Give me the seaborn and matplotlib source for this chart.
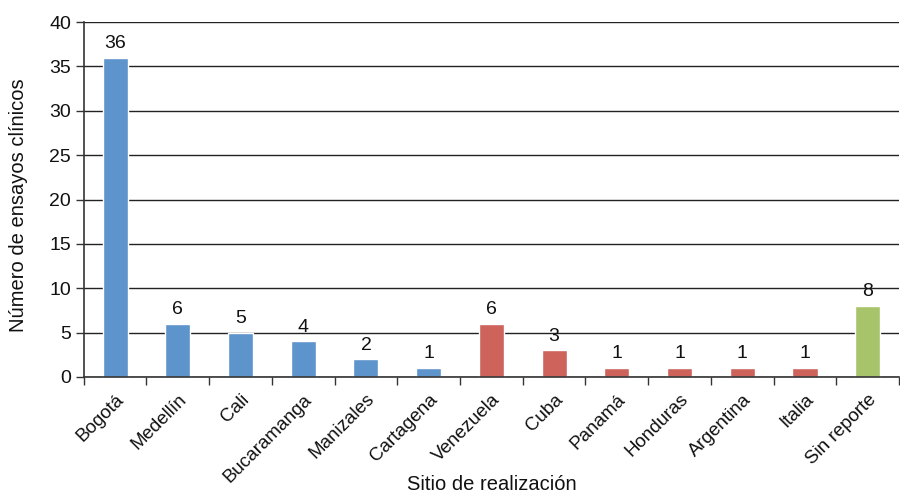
import matplotlib
matplotlib.use("Agg")
import matplotlib.pyplot as plt
import seaborn as sns
import numpy as np

categories = ["Bogotá", "Medellín", "Cali", "Bucaramanga", "Manizales", "Cartagena",
              "Venezuela", "Cuba", "Panamá", "Honduras", "Argentina", "Italia", "Sin reporte"]
values = [36, 6, 5, 4, 2, 1, 6, 3, 1, 1, 1, 1, 8]
groups = ["Colombia"] * 6 + ["Exterior"] * 6 + ["Sin reporte"]
group_colors = {"Colombia": "#5E94CC", "Exterior": "#CD635B", "Sin reporte": "#A8C46A"}
yticks = [0, 5, 10, 15, 20, 25, 30, 35, 40]

sns.set_theme(style="white")
plt.rcParams["font.family"] = ["Liberation Sans", "DejaVu Sans"]

fig, ax = plt.subplots(figsize=(9, 4.92), dpi=100)
fig.subplots_adjust(left=0.093, right=0.999, top=0.955, bottom=0.234)

palette = [group_colors[g] for g in groups]
sns.barplot(x=categories, y=values, hue=categories, palette=palette, legend=False,
            width=0.4, ax=ax, saturation=1)

for c in ax.containers:
    ax.bar_label(c, labels=[f"{v:.0f}" for v in c.datavalues], padding=4, fontsize=14, color="#111111")

ax.set_ylim(0, 40)
ax.set_xlim(-0.5, len(categories) - 0.5)
ax.set_yticks(yticks)
ax.yaxis.grid(True, color="#222222", linewidth=1)
ax.set_axisbelow(True)

ax.set_xticks(np.arange(len(categories)))
ax.set_xticklabels(categories, rotation=45, ha="right", rotation_mode="anchor", fontsize=13.5, color="#111111")
ax.set_xticks(np.arange(-0.5, len(categories)), minor=True)
ax.tick_params(axis="x", which="major", length=0, pad=10)
ax.tick_params(axis="x", which="minor", length=6, width=1, color="#333333", direction="out", bottom=True)
ax.tick_params(axis="y", length=6, width=1, color="#333333", direction="out", left=True,
               labelsize=14, labelcolor="#111111", pad=3)

for s in ["top", "right"]:
    ax.spines[s].set_visible(False)
for s in ["left", "bottom"]:
    ax.spines[s].set_color("#333333")
    ax.spines[s].set_linewidth(1.2)

ax.set_xlabel("")
ax.set_ylabel("")
fig.text(492 / 900, 1 - 484 / 492, "Sitio de realización", fontsize=14.5, ha="center", va="center", color="#111111")
fig.text(19 / 900, 1 - 205 / 492, "Número de ensayos clínicos", fontsize=14.5, ha="center", va="center",
         rotation=90, color="#111111")

fig.savefig("out.png", dpi=100)
